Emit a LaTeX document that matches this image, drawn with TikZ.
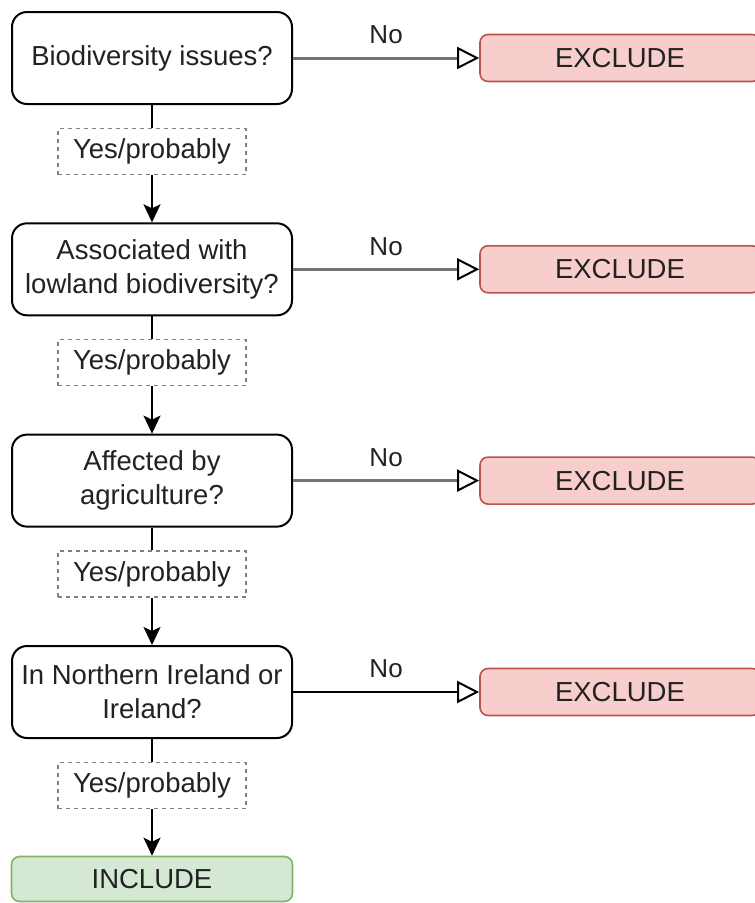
\documentclass[tikz,border=0pt]{standalone}
\usepackage{fontspec}
\setmainfont{Liberation Sans}
\usetikzlibrary{arrows.meta}
\definecolor{exfill}{HTML}{F8CECC}
\definecolor{exline}{HTML}{B85450}
\definecolor{infill}{HTML}{D5E8D4}
\definecolor{inline}{HTML}{82B366}
\definecolor{txt}{HTML}{222222}
\begin{document}
\begin{tikzpicture}[x=1pt,y=-1pt,
  every node/.style={text=txt, font=\fontsize{27.5}{34}\selectfont, inner sep=0pt},
  question/.style={draw=black, line width=2pt, rounded corners=15pt, fill=white,
    minimum width=280pt, minimum height=92pt, align=center},
  yesbox/.style={draw=black!50, line width=1.3pt, dash pattern=on 4pt off 4pt, fill=white,
    minimum width=188pt, minimum height=46pt},
  exbox/.style={draw=exline, line width=1.6pt, rounded corners=8pt, fill=exfill,
    minimum width=280pt, minimum height=47pt},
  inbox/.style={draw=inline, line width=1.6pt, rounded corners=8pt, fill=infill,
    minimum width=281pt, minimum height=45pt},
  plain/.style={draw=black, line width=2pt},
  down/.style={draw=black, line width=2pt, -{Stealth[length=18pt,width=17pt,inset=4pt]}},
  nogray/.style={draw=black!55, line width=3pt, -{Triangle[open,length=22pt,width=22pt,line width=2pt,color=black,fill=white]}},
  noblack/.style={draw=black, line width=2pt, -{Triangle[open,length=22pt,width=22pt,line width=2pt,color=black,fill=white]}},
  nolabel/.style={font=\fontsize{26}{30}\selectfont, yshift=23pt}
]
\useasboundingbox (0,0) rectangle (755,903);

\node[question] (q1) at (152,58) {Biodiversity issues?};
\node[question] (q2) at (152,269.3) {Associated with\\lowland biodiversity?};
\node[question] (q3) at (152,480.6) {Affected by\\agriculture?};
\node[question] (q4) at (152,692) {In Northern Ireland or\\Ireland?};

\node[yesbox] (y1) at (152,151.5) {Yes/probably};
\node[yesbox] (y2) at (152,362.8) {Yes/probably};
\node[yesbox] (y3) at (152,574.1) {Yes/probably};
\node[yesbox] (y4) at (152,785.6) {Yes/probably};

\node[inbox] (inc) at (152,879) {INCLUDE};

\node[exbox] (e1) at (620,58) {EXCLUDE};
\node[exbox] (e2) at (620,269.3) {EXCLUDE};
\node[exbox] (e3) at (620,480.6) {EXCLUDE};
\node[exbox] (e4) at (620,692) {EXCLUDE};

\draw[plain] (q1.south) -- (y1.north);
\draw[plain] (q2.south) -- (y2.north);
\draw[plain] (q3.south) -- (y3.north);
\draw[plain] (q4.south) -- (y4.north);

\draw[down] (y1.south) -- (q2.north);
\draw[down] (y2.south) -- (q3.north);
\draw[down] (y3.south) -- (q4.north);
\draw[down] (y4.south) -- (inc.north);

\draw[nogray] (q1.east) -- node[nolabel] (n1) {No} (e1.west);
\draw[nogray] (q2.east) -- node[nolabel] (n2) {No} (e2.west);
\draw[nogray] (q3.east) -- node[nolabel] (n3) {No} (e3.west);
\draw[noblack] (q4.east) -- node[nolabel] (n4) {No} (e4.west);
\end{tikzpicture}
\end{document}
